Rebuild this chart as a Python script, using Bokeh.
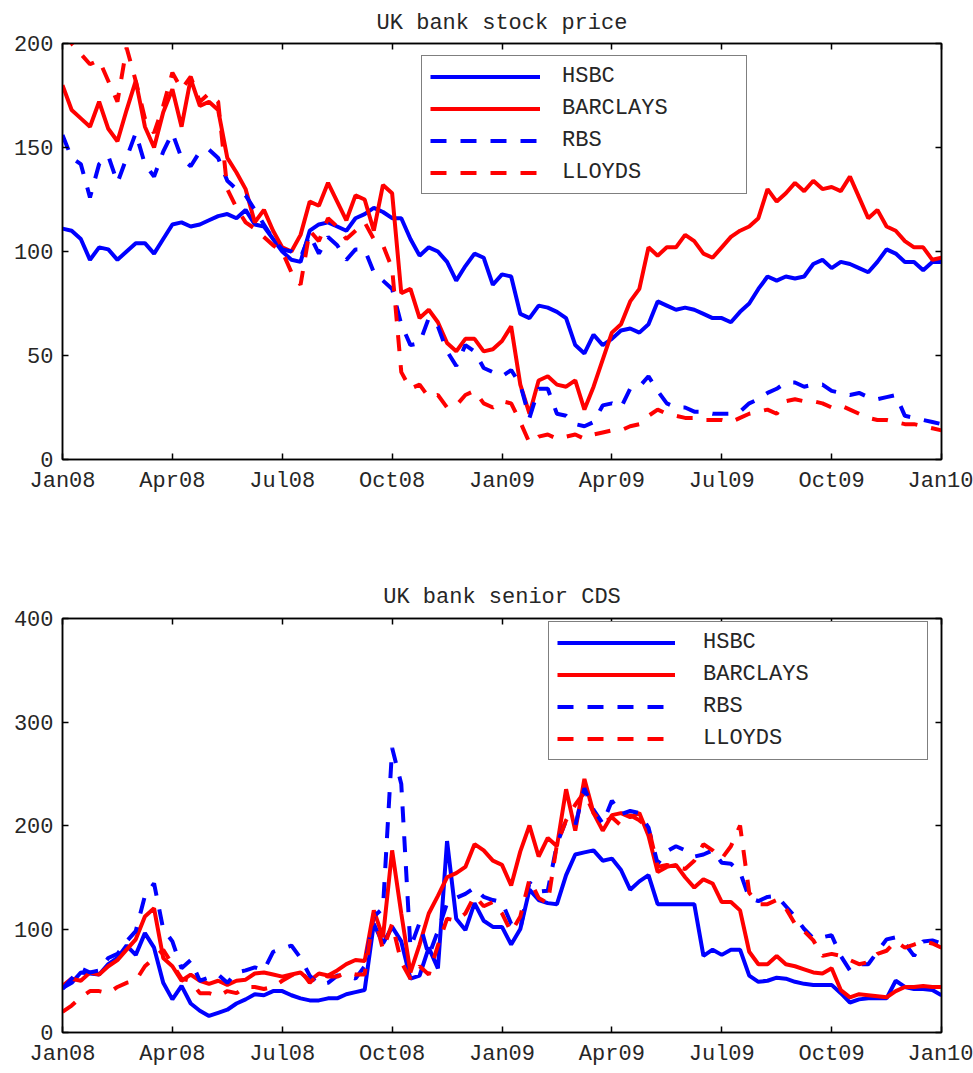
from bokeh.plotting import figure
from bokeh.models import FixedTicker, LinearAxis, Legend, LegendItem, Range1d
from bokeh.layouts import column
from bokeh.embed import file_html
from bokeh.resources import INLINE

# ---- data (x = months since Jan 2008, roughly weekly samples) ----
months = [i / 4 for i in range(97)]
tick_months = [0, 3, 6, 9, 12, 15, 18, 21, 24]
tick_labels = ["Jan08", "Apr08", "Jul08", "Oct08", "Jan09", "Apr09", "Jul09", "Oct09", "Jan10"]
banks = ["HSBC", "BARCLAYS", "RBS", "LLOYDS"]

price_hsbc = [111, 110, 106, 96, 102, 101, 96, 100, 104, 104, 99, 106, 113, 114, 112, 113, 115, 117, 118, 116, 120, 113, 112, 106, 100,
              96, 95, 110, 113, 114, 112, 110, 116, 118, 121, 119, 116, 116, 106, 98, 102, 100, 95, 86, 93, 99, 97, 84, 89,
              88, 70, 68, 74, 73, 71, 68, 55, 51, 60, 55, 58, 62, 63, 61, 65, 76, 74, 72, 73, 72, 70, 68, 68,
              66, 71, 75, 82, 88, 86, 88, 87, 88, 94, 96, 92, 95, 94, 92, 90, 95, 101, 99, 95, 95, 91, 95, 95]
price_barclays = [180, 168, 164, 160, 172, 159, 153, 168, 182, 160, 150, 167, 178, 160, 183, 170, 172, 168, 145, 138, 130, 114, 120, 110, 102,
                  100, 108, 124, 122, 133, 124, 115, 127, 125, 110, 132, 128, 80, 82, 68, 72, 66, 56, 52, 58, 58, 52, 53, 57,
                  64, 36, 22, 38, 40, 36, 35, 38, 24, 35, 48, 61, 65, 76, 82, 102, 98, 102, 102, 108, 105, 99, 97, 102,
                  107, 110, 112, 116, 130, 124, 128, 133, 129, 134, 130, 131, 129, 136, 126, 116, 120, 112, 110, 105, 102, 102, 96, 97]
price_rbs = [156, 145, 142, 126, 142, 146, 133, 145, 157, 142, 136, 148, 157, 145, 141, 148, 149, 145, 134, 130, 127, 120, 113, 106, 101,
             100, 97, 108, 99, 107, 103, 96, 101, 101, 90, 86, 82, 65, 55, 56, 68, 64, 52, 45, 55, 52, 44, 42, 40,
             43, 36, 20, 34, 34, 22, 21, 17, 16, 18, 26, 27, 25, 34, 35, 40, 33, 27, 25, 25, 23, 23, 22, 22,
             22, 23, 27, 29, 32, 34, 37, 37, 35, 36, 36, 33, 32, 31, 32, 30, 29, 30, 31, 21, 20, 19, 18, 17]
price_lloyds = [205, 200, 195, 190, 192, 182, 172, 198, 182, 164, 157, 170, 186, 178, 184, 172, 176, 172, 130, 121, 114, 111, 107, 103, 100,
                90, 84, 110, 105, 116, 112, 106, 110, 114, 106, 103, 92, 42, 34, 36, 30, 31, 25, 26, 31, 33, 27, 25, 28,
                27, 18, 8, 11, 12, 10, 11, 12, 10, 12, 13, 14, 14, 16, 17, 21, 24, 22, 21, 20, 20, 19, 19, 19,
                18, 20, 22, 23, 24, 22, 28, 29, 28, 28, 27, 25, 26, 24, 22, 20, 19, 19, 18, 17, 17, 16, 15, 14]

cds_hsbc = [43, 48, 58, 57, 56, 66, 72, 84, 75, 96, 82, 48, 32, 45, 28, 21, 16, 19, 22, 28, 32, 37, 36, 40, 40,
            36, 33, 31, 31, 33, 33, 37, 39, 41, 105, 86, 102, 88, 52, 55, 82, 62, 185, 110, 99, 125, 108, 102, 102,
            85, 100, 138, 128, 125, 124, 152, 172, 174, 176, 166, 168, 157, 138, 146, 152, 124, 124, 124, 124, 124, 74, 80, 75,
            80, 80, 55, 49, 50, 53, 52, 49, 47, 46, 46, 46, 38, 29, 32, 33, 33, 33, 50, 44, 42, 42, 41, 36]
cds_barclays = [45, 52, 50, 58, 56, 64, 70, 80, 90, 112, 120, 72, 64, 50, 56, 50, 47, 50, 46, 50, 51, 57, 58, 56, 54,
                56, 58, 50, 57, 55, 60, 66, 70, 69, 118, 92, 176, 115, 58, 85, 115, 132, 150, 154, 160, 182, 176, 166, 162,
                142, 175, 200, 170, 188, 180, 235, 195, 245, 212, 195, 210, 212, 208, 212, 190, 155, 160, 162, 150, 140, 148, 144, 126,
                126, 118, 78, 66, 66, 74, 66, 64, 61, 58, 57, 62, 41, 34, 37, 36, 35, 34, 40, 44, 44, 45, 44, 44]
cds_rbs = [42, 52, 62, 58, 60, 72, 76, 88, 98, 132, 144, 100, 88, 62, 70, 50, 53, 56, 48, 58, 60, 63, 60, 78, 81,
           84, 72, 55, 46, 48, 55, 55, 52, 64, 112, 120, 275, 240, 82, 106, 74, 98, 125, 130, 134, 140, 131, 128, 126,
           105, 100, 145, 136, 137, 182, 205, 200, 236, 215, 202, 224, 211, 214, 212, 198, 163, 175, 180, 176, 170, 172, 176, 164,
           163, 155, 130, 127, 131, 132, 122, 112, 100, 91, 92, 94, 74, 60, 66, 66, 78, 90, 92, 86, 74, 88, 89, 86]
cds_lloyds = [20, 26, 34, 40, 40, 38, 44, 48, 50, 64, 72, 80, 66, 52, 50, 38, 38, 35, 40, 38, 44, 44, 42, 44, 50,
              55, 60, 48, 57, 54, 54, 58, 56, 56, 115, 80, 105, 68, 52, 64, 56, 84, 110, 108, 115, 132, 122, 126, 115,
              97, 112, 148, 130, 125, 182, 205, 220, 232, 212, 202, 208, 200, 210, 205, 198, 160, 162, 160, 158, 166, 182, 176, 168,
              180, 200, 135, 124, 124, 128, 120, 105, 98, 89, 74, 76, 74, 70, 66, 68, 76, 79, 88, 82, 85, 88, 86, 82]

# ---- styling ----
FONT = "Liberation Mono"
TXT = "#262626"
FS = "22px"
colors = ["#0000ff", "#ff0000", "#0000ff", "#ff0000"]
dashes = ["solid", "solid", "16 14", "16 14"]


def style_axis(ax, labels=True):
    ax.axis_line_color = "black"
    ax.axis_line_width = 1.5
    ax.major_tick_line_color = "black"
    ax.major_tick_line_width = 1.5
    ax.major_tick_in = 6
    ax.major_tick_out = 0
    ax.minor_tick_line_color = None
    ax.major_label_text_font = FONT
    if labels:
        ax.major_label_text_color = TXT
        ax.major_label_text_font_size = FS
        ax.major_label_standoff = 9
    else:
        ax.major_label_text_color = None
        ax.major_label_text_alpha = 0
        ax.major_label_text_font_size = "0px"
        ax.major_label_standoff = 0


def make_fig(title, ymax, ystep, height, top_b, bottom_b, title_standoff, series, loc, glyph_w, label_w, label_so):
    p = figure(width=973, height=height, output_backend="svg", toolbar_location=None,
               x_range=Range1d(0, 24), y_range=Range1d(0, ymax), title=title,
               min_border_left=62, min_border_right=32, min_border_top=top_b, min_border_bottom=bottom_b)
    p.title.align = "center"
    p.title.text_font = FONT
    p.title.text_font_size = FS
    p.title.text_font_style = "normal"
    p.title.text_color = TXT
    p.title.standoff = title_standoff
    p.grid.grid_line_color = None
    p.outline_line_color = "black"
    p.outline_line_width = 1.5
    p.background_fill_color = "white"
    p.border_fill_color = "white"

    xt = FixedTicker(ticks=tick_months)
    yt = FixedTicker(ticks=list(range(0, ymax + 1, ystep)))
    p.xaxis.ticker = xt
    p.xaxis.major_label_overrides = {m: l for m, l in zip(tick_months, tick_labels)}
    p.yaxis.ticker = yt
    style_axis(p.xaxis[0])
    style_axis(p.yaxis[0])
    top = LinearAxis(ticker=xt)
    right = LinearAxis(ticker=yt)
    style_axis(top, labels=False)
    style_axis(right, labels=False)
    p.add_layout(top, "above")
    p.add_layout(right, "right")

    items = []
    for name, vals, c, d in zip(banks, series, colors, dashes):
        r = p.line(months, vals, line_color=c, line_width=4, line_dash=d)
        items.append(LegendItem(label=name, renderers=[r]))
    leg = Legend(items=items, location=loc)
    leg.glyph_width = glyph_w
    leg.glyph_height = 25
    leg.label_height = 25
    leg.label_width = label_w
    leg.label_standoff = label_so
    leg.padding = 8
    leg.spacing = 7
    leg.margin = 0
    leg.label_text_font = FONT
    leg.label_text_font_size = FS
    leg.label_text_color = TXT
    leg.border_line_color = "black"
    leg.border_line_width = 1.5
    leg.background_fill_color = "white"
    leg.background_fill_alpha = 1.0
    p.add_layout(leg)
    return p


p1 = make_fig("UK bank stock price", 200, 50, 568, 43, 109, 15,
              [price_hsbc, price_barclays, price_rbs, price_lloyds], (359, 265), 110, 176, 22)
p2 = make_fig("UK bank senior CDS", 400, 100, 504, 50, 40, 18,
              [cds_hsbc, cds_barclays, cds_rbs, cds_lloyds], (486, 272), 118, 216, 28)

page = column(p1, p2)
open("out.html", "w").write(file_html(page, INLINE))
